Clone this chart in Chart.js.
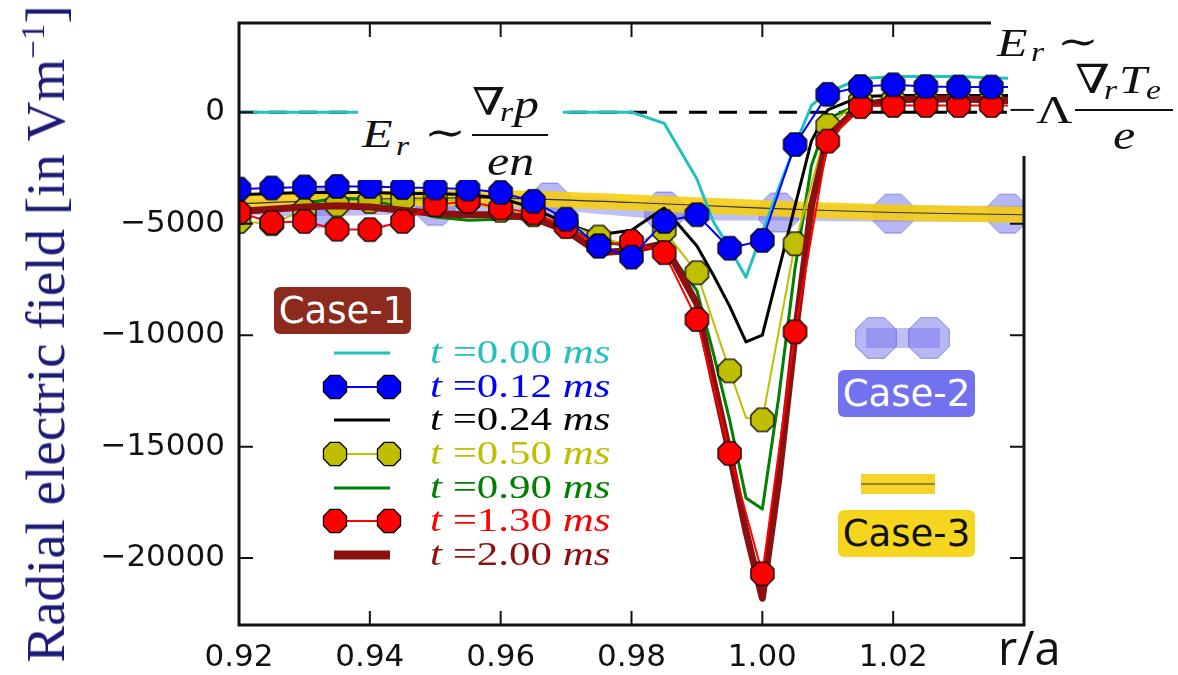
<!DOCTYPE html>
<html>
<head>
<meta charset="utf-8">
<script src="https://cdn.jsdelivr.net/npm/chart.js@4/dist/chart.umd.min.js"></script>
<style>
  body { margin: 0; background: #fff; }
  #wrap { position: relative; width: 1178px; height: 675px; overflow: hidden; background: #fff; }
  #wrap canvas { position: absolute; left: 0; top: 0; }
  .ov { position: absolute; white-space: nowrap; line-height: 1; }
  .mt { font-family: "Liberation Serif", "DejaVu Serif", serif; color: #111; transform-origin: left top; transform: scaleX(1.25); }
  .it { font-style: italic; }
  .white { position: absolute; background: #fff; }
  .bar { position: absolute; background: #111; height: 2px; }
  .leg { font-family: "Liberation Serif", "DejaVu Serif", serif; font-size: 33px; transform-origin: left center; transform: scaleX(1.3); }
  .case { position: absolute; border-radius: 6px; font-family: "DejaVu Sans", sans-serif; font-size: 37px; text-align: center; line-height: 47px; height: 47px; width: 137px; }
</style>
</head>
<body>
<div id="wrap">
  <canvas id="chart" width="1178" height="675"></canvas>

  <!-- y axis label -->
  <div class="ov" style="left:45px;top:334px;transform:translate(-50%,-50%) rotate(-90deg);font-family:'Liberation Serif',serif;font-size:55px;color:#1c1c78;">Radial electric field [in Vm<sup style="font-size:33px;vertical-align:20px">−1</sup>]</div>

  <!-- left formula -->
  <div class="white" style="left:358px;top:84px;width:205px;height:96px;"></div>
  <div class="ov mt it" style="left:362px;top:114px;font-size:40px;">E</div>
  <div class="ov mt it" style="left:396px;top:133px;font-size:27px;">r</div>
  <div class="ov mt" style="left:424px;top:113px;font-size:40px;">∼</div>
  <div class="ov mt" style="left:472px;top:83px;font-size:38px;">∇</div>
  <div class="ov mt it" style="left:500px;top:99px;font-size:27px;">r</div>
  <div class="ov mt it" style="left:514px;top:85px;font-size:40px;">p</div>
  <div class="bar" style="left:472px;top:134px;width:76px;"></div>
  <div class="ov mt it" style="left:487px;top:142px;font-size:40px;">en</div>

  <!-- right formula -->
  <div class="white" style="left:1008px;top:0;width:170px;height:156px;"></div>
  <div class="white" style="left:991px;top:0;width:20px;height:60px;"></div>
  <div class="ov mt it" style="left:997px;top:23px;font-size:40px;">E</div>
  <div class="ov mt it" style="left:1031px;top:39px;font-size:27px;">r</div>
  <div class="ov mt" style="left:1057px;top:22px;font-size:40px;">∼</div>
  <div class="ov mt" style="left:1008px;top:90px;font-size:40px;">−Λ</div>
  <div class="ov mt" style="left:1075px;top:60px;font-size:40px;">∇</div>
  <div class="ov mt it" style="left:1104px;top:77px;font-size:27px;">r</div>
  <div class="ov mt it" style="left:1119px;top:60px;font-size:40px;">T</div>
  <div class="ov mt it" style="left:1146px;top:77px;font-size:27px;">e</div>
  <div class="bar" style="left:1075px;top:109px;width:98px;"></div>
  <div class="ov mt it" style="left:1113px;top:116px;font-size:40px;">e</div>

  <!-- case labels -->
  <div class="case" style="left:274px;top:287px;background:#8c2a1e;color:#fff;">Case-1</div>
  <div class="case" style="left:838px;top:370px;background:#7272ee;color:#fff;">Case-2</div>
  <div class="case" style="left:838px;top:510px;background:#f6d51f;color:#111;">Case-3</div>

  <!-- legend texts -->
  <div id="legtext"></div>

  <!-- x axis label -->
  <div class="white" style="left:980px;top:628px;width:198px;height:47px;"></div>
  <div class="ov" style="left:998px;top:624px;font-family:'Open Sans',sans-serif;font-size:47px;color:#111;">r/a</div>
</div>

<script>
// radial positions (r/a) of the profile samples
const rGrid = [0.92, 0.925, 0.93, 0.935, 0.94, 0.945, 0.95, 0.955, 0.96, 0.965, 0.97, 0.975,
  0.98, 0.985, 0.99, 0.9925, 0.995, 0.9975, 1.00, 1.0025, 1.005, 1.0075, 1.01, 1.015,
  1.02, 1.025, 1.03, 1.035, 1.04];

// Case-1, radial electric field [V/m] at each time
const er000 = [0, 0, 0, 0, 0, 0, 0, 0, 0, 0, 0, 0, 0, -500, -3000, -4900, -6100, -7400, -5400,
  -3400, -1500, 300, 900, 1500, 1600, 1600, 1600, 1550, 1500];
const er012 = [-3450, -3400, -3350, -3330, -3330, -3380, -3400, -3450, -3600, -4000, -4800, -6000,
  -6500, -4900, -4600, null, -6100, null, -5750, null, -1450, null, 800, 1150, 1230, 1150, 1130, 1130, 1130];
const er024 = [-3700, -3650, -3600, -3600, -3600, -3650, -3650, -3700, -3850, -4300, -5000, -5500,
  -5300, -4300, -6000, -7300, -8700, -10300, -10000, -7100, -4200, -1300, 100, 700, 750, 750, 750, 750, 750];
const er050 = [-4900, -5000, -4400, -4150, -4000, -3950, -3900, -4000, -4400, -4600, -5000, -5600,
  -6000, -5300, -7200, null, -11600, -13700, -13800, null, -5900, null, -600, 500, 550, 550, 550, 550, 550];
const er090 = [-4550, -4400, -4100, -3850, -3900, -4300, -4700, -4850, -4800, -4700, -5200, -5800,
  -6000, -6000, -8000, -10800, -13800, -17300, -17800, -12800, -7000, -2400, -300, 400, 500, 500, 500, 500, 500];
const er130 = [-4500, -4950, -4900, -5250, -5270, -4900, -4150, -4000, -4300, -4520, -5130, -6000,
  -5800, -6300, -9300, null, -15300, null, -20700, null, -9850, null, -1300, 250, 300, 300, 300, 300, 300];
const er200 = [-4450, -4350, -4250, -4200, -4250, -4400, -4550, -4600, -4600, -4750, -5300, -6300,
  -6200, -5900, -8600, -12000, -15300, -18800, -21800, -16500, -10000, -4200, -1100, 300, 550, 600, 600, 550, 500];

// Case-2 (own sample positions) and Case-3
const case2R = [0.92, 0.9325, 0.95, 0.9675, 0.985, 1.0025, 1.02, 1.0375, 1.04];
const case2Er = [-4250, -4300, -4200, -4050, -4450, -4500, -4550, -4550, -4550];
const case3Er = [-4100, null, null, null, -3900, null, null, null, -3850, null, null, null,
  -4050, null, null, null, null, null, -4300, null, null, null, null, null, -4500, null, null, null, -4600];

const legendLabels = ['0.00', '0.12', '0.24', '0.50', '0.90', '1.30', '2.00'];
const xTicks = [0.92, 0.94, 0.96, 0.98, 1.00, 1.02];
const yTicks = [-20000, -15000, -10000, -5000, 0];

const colors = ['#22c0c0', '#0000ff', '#000000', '#bfbf00', '#008000', '#ff0000', '#8b1010'];
const widths = [3, 2, 3, 2, 3, 2, 7];
const hasMarker = [false, true, false, true, false, true, false];

function octPath(g, cx, cy, r) {
  g.beginPath();
  for (let k = 0; k < 8; k++) {
    const a = Math.PI / 8 + k * Math.PI / 4;
    g.lineTo(cx + r * Math.cos(a), cy + r * Math.sin(a));
  }
  g.closePath();
}
function octagon(r, fill, edge, lw) {
  const c = document.createElement('canvas');
  const s = Math.ceil(2 * r + lw + 2);
  c.width = c.height = s;
  const g = c.getContext('2d');
  octPath(g, s / 2, s / 2, r);
  g.fillStyle = fill;
  g.fill();
  if (lw) { g.lineWidth = lw; g.strokeStyle = edge; g.stroke(); }
  return c;
}

const pts = (vals, xs = rGrid) => xs.map((x, i) => ({x: x, y: vals[i]}));
const onMarkerGrid = ctx => {
  const x = ctx.raw ? ctx.raw.x : 0;
  return Math.abs(x * 200 - Math.round(x * 200)) < 1e-6;
};

const markerR = 12.5;
const lavender = 'rgba(112,112,238,0.5)';
const gold = 'rgba(246,206,20,0.9)';

const series = [er000, er012, er024, er050, er090, er130, er200];
const drawOrder = [7, 1, 6, 4, 5, 2, 3];
const caseOne = series.map((vals, i) => ({
  data: pts(vals),
  borderColor: colors[i],
  borderWidth: widths[i],
  borderJoinStyle: 'round',
  spanGaps: true,
  pointStyle: hasMarker[i] ? octagon(markerR, colors[i], '#000', 1.3) : 'circle',
  pointRadius: hasMarker[i] ? (ctx => onMarkerGrid(ctx) ? markerR : 0) : 0,
  order: drawOrder[i]
}));

const noPad = s => { s.paddingTop = 0; s.paddingBottom = 0; s.paddingLeft = 0; s.paddingRight = 0; };

const chart = new Chart(document.getElementById('chart'), {
  type: 'line',
  data: {
    datasets: caseOne.concat([
      { data: pts(case3Er), borderColor: '#333', borderWidth: 1.2, spanGaps: true, tension: 0.3, pointRadius: 0, order: 8 },
      { data: pts(case3Er), borderColor: gold, borderWidth: 16, spanGaps: true, tension: 0.3, pointRadius: 0, order: 9 },
      { data: pts(case2Er, case2R), borderColor: 'rgba(112,112,238,0.45)', borderWidth: 16, tension: 0.3,
        pointStyle: octagon(21, lavender, 'rgba(80,80,200,0.6)', 1),
        pointRadius: ctx => (ctx.dataIndex === 0 || ctx.dataIndex === case2R.length - 1) ? 0 : 21, order: 10 },
      { data: [{x: 0.92, y: 0}, {x: 1.04, y: 0}], borderColor: '#000', borderWidth: 3, borderDash: [18, 12], pointRadius: 0, order: 11 }
    ])
  },
  options: {
    responsive: false,
    animation: false,
    layout: { padding: { top: 23, right: 154, left: 0, bottom: 0 } },
    plugins: { legend: { display: false }, tooltip: { enabled: false } },
    scales: {
      x: {
        type: 'linear', min: 0.92, max: 1.04,
        grid: { display: false, drawTicks: false }, border: { display: false },
        afterBuildTicks: s => { s.ticks = xTicks.map(v => ({value: v})); },
        afterFit: s => { s.height = 50; noPad(s); },
        ticks: { padding: 14, color: '#111', font: { family: 'DejaVu Sans', size: 31 }, maxRotation: 0,
          callback: v => v.toFixed(2) }
      },
      y: {
        type: 'linear', min: -23000, max: 4000,
        grid: { display: false, drawTicks: false }, border: { display: false },
        afterBuildTicks: s => { s.ticks = yTicks.map(v => ({value: v})); },
        afterFit: s => { s.width = 239; noPad(s); },
        ticks: { padding: 14, color: '#111', font: { family: 'DejaVu Sans', size: 31 },
          callback: v => v < 0 ? '\u2212' + (-v) : String(v) }
      }
    }
  },
  plugins: [{
    id: 'frame',
    afterDatasetsDraw(c) {
      const {ctx, chartArea: a, scales: {x, y}} = c;
      ctx.save();
      ctx.strokeStyle = '#111';
      ctx.lineWidth = 2;
      x.ticks.forEach(t => {
        const px = x.getPixelForValue(t.value);
        ctx.beginPath();
        ctx.moveTo(px, a.bottom); ctx.lineTo(px, a.bottom - 14);
        ctx.moveTo(px, a.top); ctx.lineTo(px, a.top + 14);
        ctx.stroke();
      });
      y.ticks.forEach(t => {
        const py = y.getPixelForValue(t.value);
        ctx.beginPath();
        ctx.moveTo(a.left, py); ctx.lineTo(a.left + 14, py);
        ctx.moveTo(a.right, py); ctx.lineTo(a.right - 14, py);
        ctx.stroke();
      });
      ctx.lineWidth = 3;
      ctx.strokeRect(a.left, a.top, a.right - a.left, a.bottom - a.top);
      ctx.restore();
    },
    afterDraw(c) {
      // legend handles
      const ctx = c.ctx;
      ctx.save();
      const rowY = [353, 387, 420, 454, 488, 521, 555];
      rowY.forEach((yy, i) => {
        ctx.strokeStyle = colors[i];
        ctx.lineWidth = i === 6 ? 9 : widths[i];
        ctx.beginPath(); ctx.moveTo(334, yy); ctx.lineTo(390, yy); ctx.stroke();
        if (hasMarker[i]) {
          [335, 389].forEach(px => {
            octPath(ctx, px, yy, markerR);
            ctx.fillStyle = colors[i]; ctx.fill();
            ctx.lineWidth = 1.3; ctx.strokeStyle = '#000'; ctx.stroke();
          });
        }
      });
      // Case-2 handle
      ctx.strokeStyle = 'rgba(112,112,238,0.45)';
      ctx.lineWidth = 20;
      ctx.beginPath(); ctx.moveTo(866, 338); ctx.lineTo(940, 338); ctx.stroke();
      [876, 929].forEach(px => {
        octPath(ctx, px, 338, 22);
        ctx.fillStyle = lavender; ctx.fill();
        ctx.lineWidth = 1; ctx.strokeStyle = 'rgba(80,80,200,0.6)'; ctx.stroke();
      });
      // Case-3 handle
      ctx.strokeStyle = gold; ctx.lineWidth = 20;
      ctx.beginPath(); ctx.moveTo(861, 484); ctx.lineTo(935, 484); ctx.stroke();
      ctx.strokeStyle = '#333'; ctx.lineWidth = 1.2;
      ctx.beginPath(); ctx.moveTo(861, 484); ctx.lineTo(935, 484); ctx.stroke();
      ctx.restore();
    }
  }]
});

// legend texts
const legRows = [353, 387, 420, 454, 488, 521, 555];
document.getElementById('legtext').innerHTML = legendLabels.map((lab, i) =>
  `<div class="ov leg" style="left:430px;top:${legRows[i] - 17}px;color:${colors[i]}"><i>t</i> =${lab} <i>ms</i></div>`
).join('');
</script>
</body>
</html>
